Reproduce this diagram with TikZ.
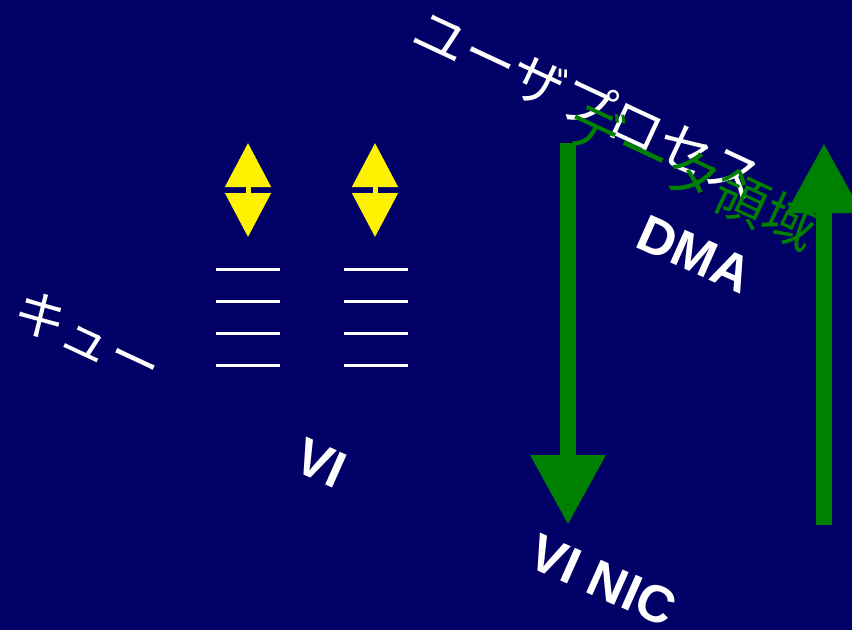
\documentclass[tikz,border=0pt]{standalone}
\usepackage{fontspec}
\setmainfont{Liberation Sans}
\newfontfamily\cjk{Noto Sans CJK JP}
\usetikzlibrary{arrows.meta}
\definecolor{slidebg}{RGB}{0,0,102}
\definecolor{dmagreen}{RGB}{0,128,0}

\begin{document}
\begin{tikzpicture}[x=1pt,y=-1pt,
	slidetext/.style={text=white,inner sep=0pt,anchor=center,rotate=#1},
	slidetext/.default=-25,
	jptext/.style={slidetext,font=\cjk\fontsize{54}{54}\selectfont},
	entext/.style={slidetext=-24,font=\bfseries\fontsize{52}{52}\selectfont},
	dmaarrow/.style={draw=dmagreen,line width=16pt,-{Triangle[length=70pt,width=71pt]}},
	doorbell/.style={draw=yellow,line width=5pt,{Triangle[length=44pt,width=45pt]}-{Triangle[length=44pt,width=45pt]}},
	queueline/.style={draw=white,line width=3pt}
	]
  \useasboundingbox (0,0) rectangle (852,630);
  \fill[slidebg] (0,0) rectangle (852,630);

  % work queues of the VI
  \foreach \qx in {216,344}{
    \foreach \qy in {269,301,333,365}
      \draw[queueline] (\qx,\qy) -- ++(64,0);
  }
  \foreach \bx/\bn in {248/a,375/b}{
    \coordinate (bell\bn top) at (\bx,143);
    \coordinate (bell\bn bot) at (\bx,237);
    \draw[doorbell] (bell\bn top) -- (bell\bn bot);
  }

  % DMA transfers
  \coordinate (send top) at (568,143);
  \coordinate (send tip) at (568,525);
  \coordinate (recv bot) at (824,525);
  \coordinate (recv tip) at (824,143);
  \draw[dmaarrow] (send top) -- (send tip);
  \draw[dmaarrow] (recv bot) -- (recv tip);

  \node[jptext] (process) at (588,104) {ユーザプロセス};
  \node[jptext,text=dmagreen] (buffer) at (693,175) {データ領域};
  \node[entext] (dma) at (695,254) {DMA};
  \node[jptext,font=\cjk\fontsize{52}{52}\selectfont] (queue) at (88,338) {キュー};
  \node[entext] (vi) at (321,463) {VI};
  \node[entext] (nic) at (603,580) {VI NIC};
\end{tikzpicture}
\end{document}
